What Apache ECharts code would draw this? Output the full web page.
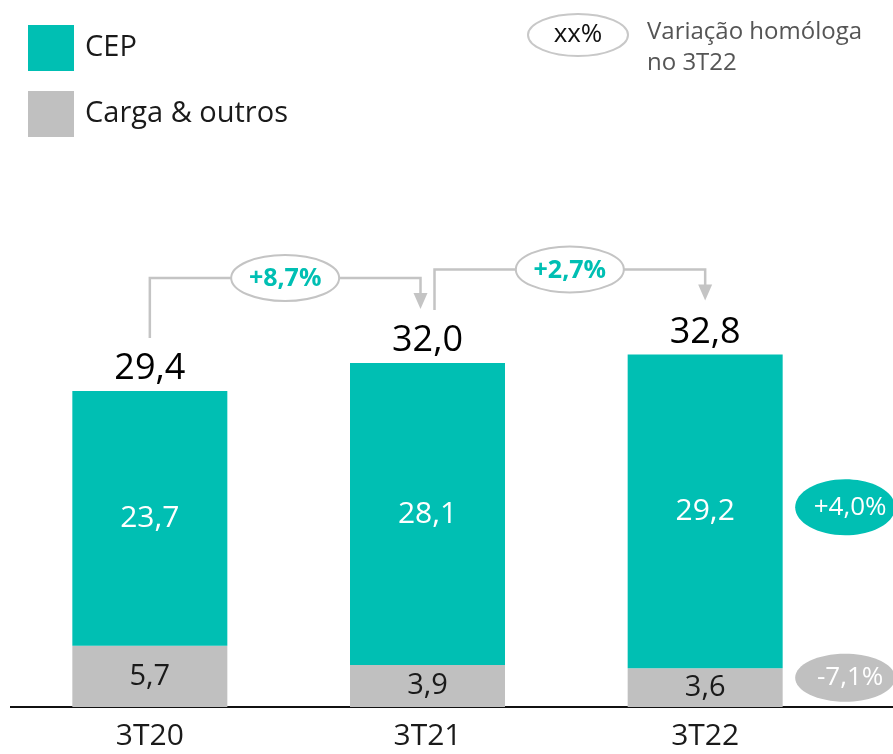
<!DOCTYPE html>
<html><head><meta charset="utf-8">
<script src="https://cdn.jsdelivr.net/npm/echarts@6/dist/echarts.min.js"></script>
<style>html,body{margin:0;padding:0;background:#fff}#c{width:893px;height:754px}</style>
</head><body><div id="c"></div>
<script>
var categories = ['3T20', '3T21', '3T22'];
var cepValues = [23.7, 28.1, 29.2];
var cargaValues = [5.7, 3.9, 3.6];
var totalValues = [29.4, 32.0, 32.8];
var yoyLabels = ['+8,7%', '+2,7%'];
var cepChange = '+4,0%';
var cargaChange = '-7,1%';

var TEAL = '#00bfb3', GREY = '#c0c0c0', LINE = '#c4c4c4';
var FONT = 'Open Sans';
function fmt(v){ return v.toFixed(1).replace('.', ','); }

var chart = echarts.init(document.getElementById('c'), null, {renderer:'canvas'});
var option = {
  animation:false,
  textStyle:{fontFamily:FONT},
  grid:{left:11, right:49, top:277, bottom:47},
  legend:{
    data:['CEP','Carga & outros'], orient:'vertical', left:28, top:25, padding:0,
    itemWidth:46, itemHeight:46, itemGap:20, icon:'rect',
    textStyle:{fontSize:29, color:'#1a1a1a', fontFamily:FONT, padding:[7,0,0,6]},
    selectedMode:false
  },
  xAxis:{type:'category', data:categories, axisLine:{show:false}, axisTick:{show:false},
    axisLabel:{fontSize:30, color:'#1a1a1a', margin:14, fontFamily:FONT}},
  yAxis:{type:'value', min:0, max:40, show:false, splitLine:{show:false}},
  series:[
    {name:'Carga & outros', type:'bar', stack:'t', data:cargaValues, barWidth:155,
     itemStyle:{color:GREY},
     label:{show:true, position:'inside', fontSize:29, color:'#1a1a1a', fontFamily:FONT,
       formatter:function(p){return fmt(p.value);}}},
    {name:'CEP', type:'bar', stack:'t', data:cepValues, barWidth:155,
     itemStyle:{color:TEAL},
     label:{show:true, position:'inside', fontSize:30, color:'#fff', fontFamily:FONT,
       formatter:function(p){return fmt(p.value);}}},
    {name:'total', type:'scatter', data:totalValues, symbolSize:0.1,
     itemStyle:{color:'rgba(0,0,0,0)', opacity:1},
     label:{show:true, position:'top', distance:4, fontSize:36, lineHeight:36, color:'#000', opacity:1, fontFamily:FONT,
       formatter:function(p){return fmt(p.value);}}}
  ]
};
chart.setOption(option);

function px(i, v){ return chart.convertToPixel({gridIndex:0}, [i, v]); }
var g = [];
var y0 = px(0,0)[1];
g.push({type:'line', shape:{x1:10, y1:y0, x2:893, y2:y0}, style:{stroke:'#111', lineWidth:2}});
for (var i=0;i<2;i++){
  var s = px(i, totalValues[i]), d = px(i+1, totalValues[i+1]);
  var sx = s[0] + (i===0?0:7), ex = d[0] - (i===0?7:0);
  var sy = s[1]-53, hy = d[1]-85, ty = d[1]-54;
  g.push({type:'polyline', shape:{points:[[sx,sy],[sx,hy],[ex,hy],[ex,ty-14]]}, style:{stroke:LINE, lineWidth:2.5, fill:null}});
  g.push({type:'polygon', shape:{points:[[ex-7,ty-16],[ex+7,ty-16],[ex,ty]]}, style:{fill:LINE}});
  var cx = (sx+ex)/2;
  g.push({type:'ellipse', shape:{cx:cx, cy:hy, rx:54, ry:23}, style:{fill:'#fff', stroke:LINE, lineWidth:2}});
  g.push({type:'text', x:cx, y:hy+1, style:{text:yoyLabels[i], fill:TEAL, font:'bold 25px "Open Sans"', align:'center', verticalAlign:'middle'}});
}
var last = categories.length-1;
var tealMid = px(last, cargaValues[last] + cepValues[last]/2);
var greyMid = px(last, cargaValues[last]/2);
var rcx = tealMid[0] + 140;
g.push({type:'ellipse', shape:{cx:rcx, cy:tealMid[1]-4, rx:50, ry:28}, style:{fill:TEAL}});
g.push({type:'text', x:rcx+5, y:tealMid[1]-4, style:{text:cepChange, fill:'#fff', font:'26px "Open Sans"', align:'center', verticalAlign:'middle'}});
g.push({type:'ellipse', shape:{cx:rcx, cy:greyMid[1]-10, rx:50, ry:24}, style:{fill:GREY}});
g.push({type:'text', x:rcx+5, y:greyMid[1]-10, style:{text:cargaChange, fill:'#fff', font:'26px "Open Sans"', align:'center', verticalAlign:'middle'}});
g.push({type:'ellipse', shape:{cx:578, cy:35, rx:50, ry:21}, style:{fill:'#fff', stroke:'#c8c8c8', lineWidth:2}});
g.push({type:'text', x:578, y:35, style:{text:'xx%', fill:'#111', font:'26px "Open Sans"', align:'center', verticalAlign:'middle'}});
g.push({type:'text', x:647, y:17, style:{text:'Variação homóloga\nno 3T22', fill:'#555', font:'24px "Open Sans"', lineHeight:31, align:'left', verticalAlign:'top'}});
chart.setOption({graphic:{elements:g}});
</script></body></html>
